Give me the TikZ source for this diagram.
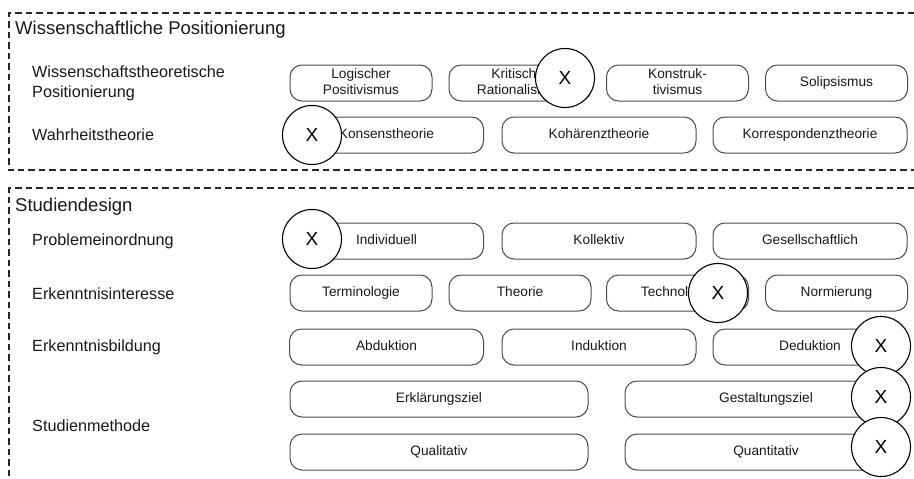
\documentclass[tikz,border=0pt]{standalone}
\usepackage{fontspec}
\setmainfont{Liberation Sans}
\begin{document}
\begin{tikzpicture}[x=1pt,y=-1pt,
  frame/.style={dash pattern=on 6.5pt off 4pt, line width=1.2pt, color=black!85},
  opt/.style={draw=black!70, line width=1pt, rounded corners=12pt, minimum height=36pt, inner sep=0pt, align=center, font=\fontsize{13.7}{15.5}\selectfont, text=black!90,
    execute at begin node={\vphantom{Ag}}, execute at end node={\vphantom{Ag}}},
  w4/.style={opt, minimum width=142pt},
  w3/.style={opt, minimum width=194pt},
  w2a/.style={opt, minimum width=298pt},
  w2b/.style={opt, minimum width=282pt},
  cross/.style={circle, draw=black, fill=white, line width=1.1pt, minimum size=59pt, inner sep=0pt, font=\fontsize{19}{21}\selectfont},
  title/.style={anchor=west, inner sep=0pt, font=\fontsize{18.5}{21}\selectfont, text=black!90},
  rowlabel/.style={anchor=west, inner sep=0pt, align=left, font=\fontsize{16.2}{20}\selectfont, text=black!90}]
\useasboundingbox (0,0) rectangle (914,479);
% frames
\coordinate (f1a) at (914,13);
\coordinate (f1b) at (9,13);
\coordinate (f1c) at (9,170);
\coordinate (f1d) at (914,170);
\draw[frame] (f1a) -- (f1b) -- (f1c) -- (f1d);
\coordinate (f2a) at (914,188);
\coordinate (f2b) at (9,188);
\coordinate (f2c) at (9,479);
\draw[frame] (f2a) -- (f2b) -- (f2c);
% titles
\node[title] (t1) at (15,30) {Wissenschaftliche Positionierung};
\node[title] (t2) at (15,207) {Studiendesign};
% row labels
\node[rowlabel] (l1) at (32,83) {Wissenschaftstheoretische\\Positionierung};
\node[rowlabel] (l2) at (32,135) {Wahrheitstheorie};
\node[rowlabel] (l3) at (32,241) {Problemeinordnung};
\node[rowlabel] (l4) at (32,294) {Erkenntnisinteresse};
\node[rowlabel] (l5) at (32,347) {Erkenntnisbildung};
\node[rowlabel] (l6) at (32,426) {Studienmethode};
% row 1
\node[w4] (a1) at (361,83) {Logischer\\Positivismus};
\node[w4] (a2) at (520,83) {Kritischer\\Rationalismus};
\node[w4] (a3) at (677.5,83) {Konstruk-\\tivismus};
\node[w4] (a4) at (836.5,83) {Solipsismus};
% row 2
\node[w3] (b1) at (386.5,135) {Konsenstheorie};
\node[w3] (b2) at (599,135) {Kohärenztheorie};
\node[w3] (b3) at (810,135) {Korrespondenztheorie};
% row 3
\node[w3] (c1) at (386.5,241) {Individuell};
\node[w3] (c2) at (599,241) {Kollektiv};
\node[w3] (c3) at (810,241) {Gesellschaftlich};
% row 4
\node[w4] (d1) at (361,293) {Terminologie};
\node[w4] (d2) at (520,293) {Theorie};
\node[w4] (d3) at (677.5,293) {Technologie};
\node[w4] (d4) at (836.5,293) {Normierung};
% row 5
\node[w3] (e1) at (386.5,347) {Abduktion};
\node[w3] (e2) at (599,347) {Induktion};
\node[w3] (e3) at (810,347) {Deduktion};
% row 6
\node[w2a] (g1) at (439,399) {Erklärungsziel};
\node[w2b] (g2) at (766,399) {Gestaltungsziel};
% row 7
\node[w2a] (h1) at (439,452) {Qualitativ};
\node[w2b] (h2) at (766,452) {Quantitativ};
% crosses
\node[cross] (x1) at (565,78) {X};
\node[cross] (x2) at (312,135) {X};
\node[cross] (x3) at (312,239) {X};
\node[cross] (x4) at (718,293) {X};
\node[cross] (x5) at (881,346) {X};
\node[cross] (x6) at (881,397) {X};
\node[cross] (x7) at (881,447) {X};
\end{tikzpicture}
\end{document}
